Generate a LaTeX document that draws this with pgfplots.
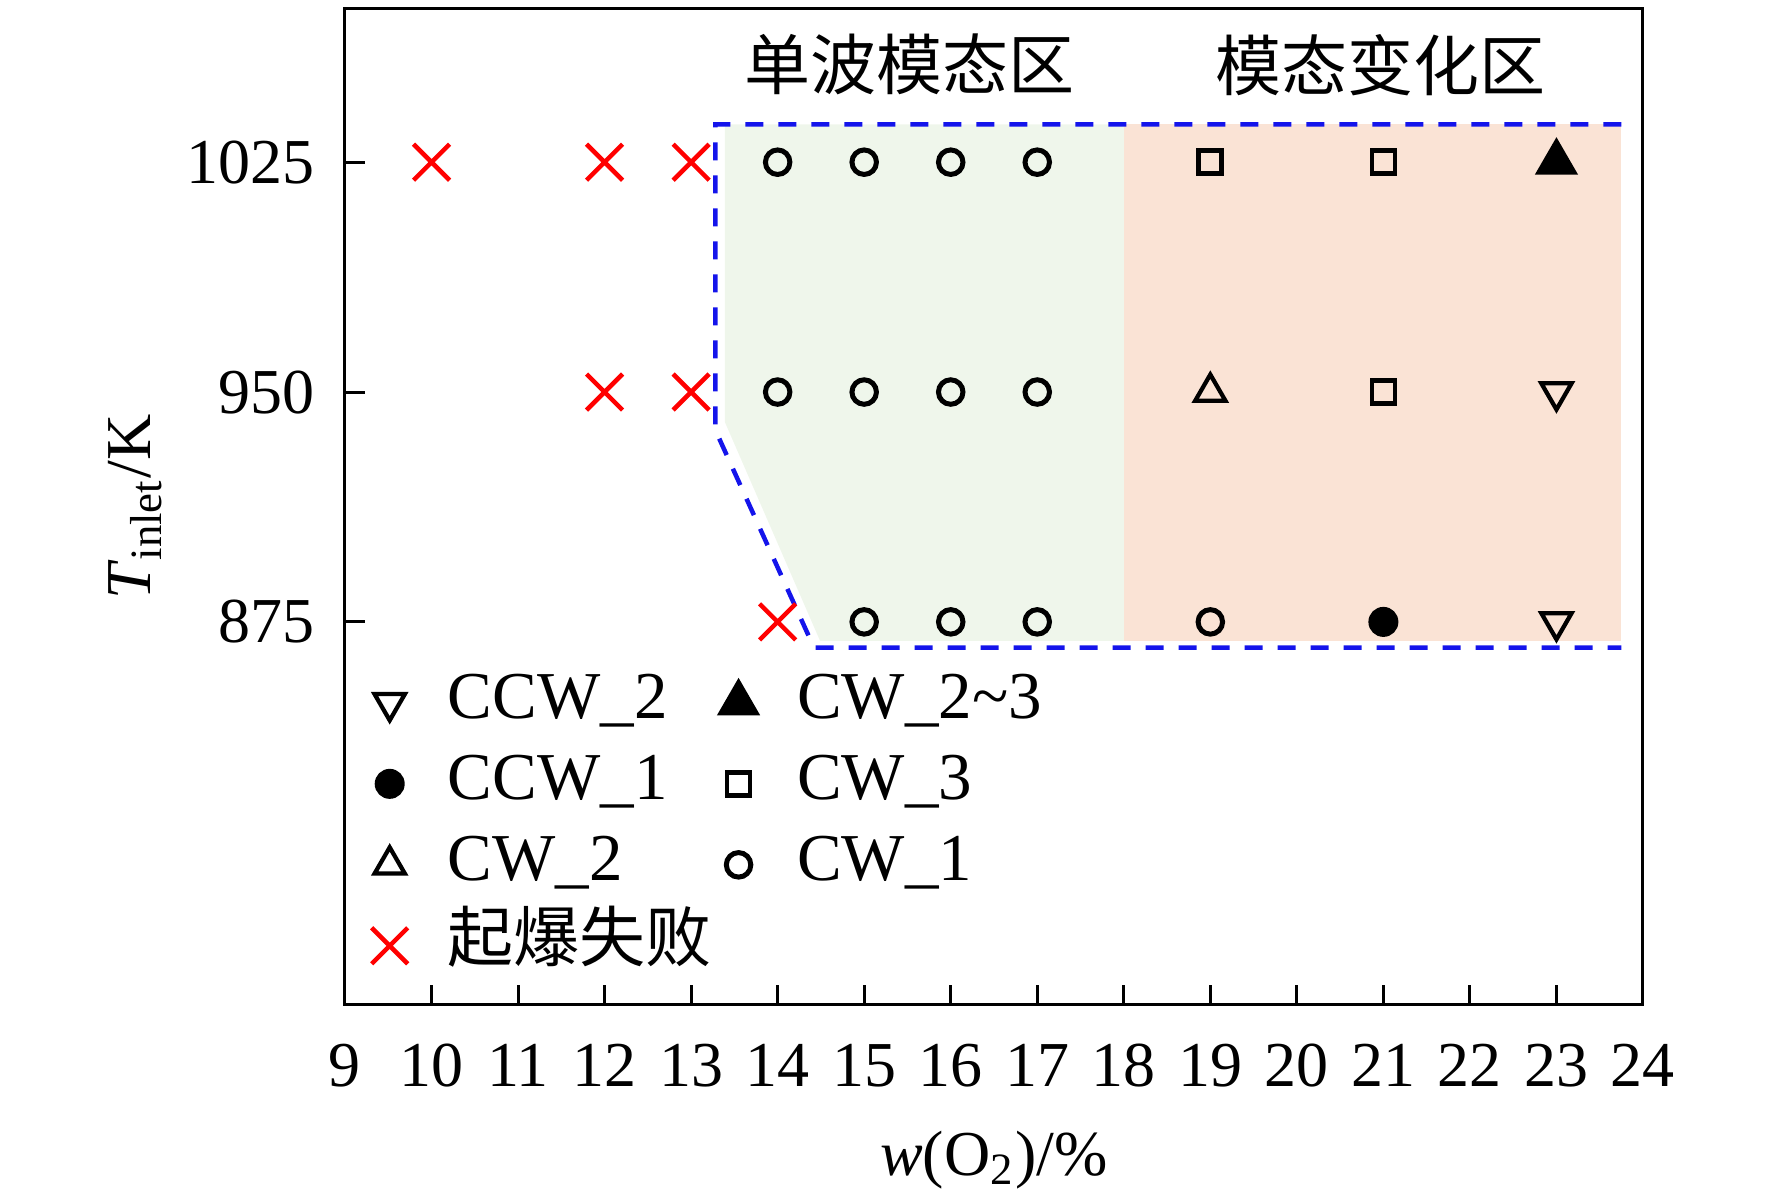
\documentclass[border=0pt]{standalone}
\usepackage{fontspec}
\setmainfont{Liberation Serif}
\newfontfamily\cjk{Noto Sans CJK SC}
\usepackage{pgfplots}
\pgfplotsset{compat=1.18}
\definecolor{greenfill}{RGB}{239,246,235}
\definecolor{orangefill}{RGB}{250,227,213}
\definecolor{dashblue}{RGB}{20,20,235}
\pgfplotsset{mylegend/.style={legend image code/.code={\draw[##1] plot coordinates {(0pt,0pt)}; \path (-9.2pt,0pt) (9.2pt,0pt);}}}
\begin{document}
\fontsize{12.8}{15.4}\selectfont
\begin{tikzpicture}
\begin{axis}[
  at={(0,0)}, anchor=south west,
  scale only axis, width=259.6pt, height=199.2pt,
  xmin=9, xmax=24, ymin=750, ymax=1075,
  xtick={9,...,24}, ytick={875,950,1025},
  xtick pos=bottom, ytick pos=left,
  tick align=inside,
  major tick length=4pt,
  axis line style={line width=0.6pt},
  every tick/.style={black, line width=0.6pt},
  /pgf/number format/assume math mode=true,
  /pgf/number format/1000 sep={},
  xticklabel style={yshift=-3.3pt},
  yticklabel style={xshift=-1.7pt},
  xlabel={\textit{w}(O\textsubscript{2})/\%},
  ylabel={\textit{T}\textsubscript{inlet}/K},
  xlabel style={yshift=0pt},
  ylabel style={yshift=-3.8pt},
  legend columns=2,
  legend cell align=left,
  legend style={draw=none, fill=none, inner sep=0pt, at={(-0.0035,0.345)}, anchor=north west,
    font=\fontsize{13.4}{16}\selectfont,
    nodes={inner xsep=2pt, inner ysep=1.7pt, text height=0.75em, text depth=0.25em},
    /tikz/every even column/.append style={column sep=2.5pt}},
  clip=false,
]
% shaded regions
\addplot[fill=greenfill, draw=none, forget plot] coordinates {(13.39,1037.3) (18,1037.3) (18,868.8) (14.49,868.8) (13.39,940.2)} -- cycle;
\addplot[fill=orangefill, draw=none, forget plot] coordinates {(18,1037.3) (23.75,1037.3) (23.75,868.8) (18,868.8)} -- cycle;
\addplot[dashblue, line width=0.9pt, dash pattern=on 3.6pt off 3pt, forget plot] coordinates {(23.75,1037.3) (13.28,1037.3) (13.28,937.6) (14.42,866.6) (23.75,866.6)};
% series
\addplot[only marks, black, mark=triangle, mark size=3.5pt, line width=0.85pt, mark options={rotate=180}, mylegend] coordinates {(23,950) (23,875)};
\addlegendentry{CCW\_2}
\addplot[only marks, black, mark=triangle*, mark size=4.6pt, line width=0.4pt, mylegend] coordinates {(23,1025)};
\addlegendentry{CW\_2\textasciitilde 3}
\addplot[only marks, black, mark=*, mark size=2.8pt, line width=0.4pt, mylegend] coordinates {(21,875)};
\addlegendentry{CCW\_1}
\addplot[only marks, black, mark=square, mark size=2.3pt, line width=0.95pt, mylegend] coordinates {(19,1025) (21,1025) (21,950)};
\addlegendentry{CW\_3}
\addplot[only marks, black, mark=triangle, mark size=3.5pt, line width=0.85pt, mylegend] coordinates {(19,950)};
\addlegendentry{CW\_2}
\addplot[only marks, black, mark=o, mark size=2.45pt, line width=1pt, mylegend] coordinates {(14,1025) (15,1025) (16,1025) (17,1025) (14,950) (15,950) (16,950) (17,950) (15,875) (16,875) (17,875) (19,875)};
\addlegendentry{CW\_1}
\addplot[only marks, red, mark=x, mark size=5.1pt, line width=0.9pt, mylegend] coordinates {(10,1025) (12,1025) (13,1025) (12,950) (13,950) (14,875)};
\addlegendentry{\makebox[0pt][l]{\cjk\fontsize{13.2}{15}\selectfont 起爆失败}}
% region labels
\node[font={\cjk\fontsize{13.2}{15}\selectfont}] at (axis cs:15.52,1056.8) {单波模态区};
\node[font={\cjk\fontsize{13.2}{15}\selectfont}] at (axis cs:20.97,1056.8) {模态变化区};
\end{axis}
\pgfresetboundingbox
\path (-69pt,-38.8pt) rectangle (285.4pt,201pt);
\end{tikzpicture}
\end{document}
